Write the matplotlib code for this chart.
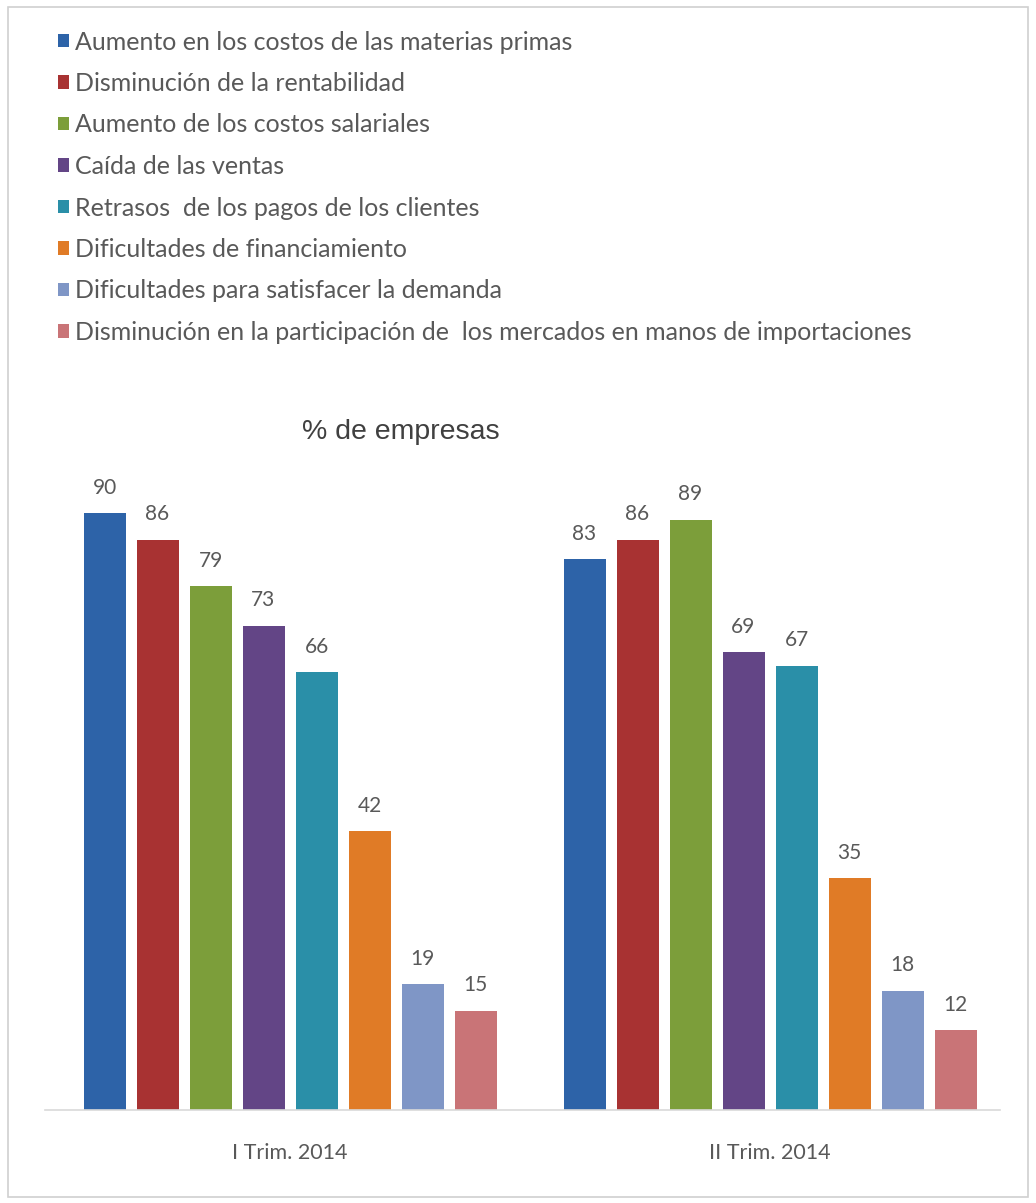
import matplotlib
matplotlib.use("Agg")
import matplotlib.pyplot as plt
from matplotlib.patches import Rectangle
import numpy as np

categories = ["I Trim. 2014", "II Trim. 2014"]
series_names = [
    "Aumento en los costos de las materias primas",
    "Disminución de la rentabilidad",
    "Aumento de los costos salariales",
    "Caída de las ventas",
    "Retrasos  de los pagos de los clientes",
    "Dificultades de financiamiento",
    "Dificultades para satisfacer la demanda",
    "Disminución en la participación de  los mercados en manos de importaciones",
]
values_t1 = [90, 86, 79, 73, 66, 42, 19, 15]
values_t2 = [83, 86, 89, 69, 67, 35, 18, 12]
colors = ["#2D63A8", "#A83232", "#7C9E3A", "#634586", "#2A8FA8", "#E07B26", "#7F96C6", "#C97477"]
title = "% de empresas"

plt.rcParams['font.family'] = ['Lato', 'DejaVu Sans']

fig = plt.figure(figsize=(10.36, 12.03), dpi=100)
W, H = 1036, 1203
# border frame
fig.patches.append(Rectangle((8 / W, 6 / H), 1020 / W, 1190 / H, transform=fig.transFigure,
                             fill=False, edgecolor="#d0d0d0", linewidth=1.2))

ax = fig.add_axes([45 / W, (H - 1110) / H, 955 / W, 680 / H])
x = np.arange(len(categories))
step = 53 / 480
width = 42 / 480
n = len(series_names)
handles = []
for i in range(n):
    vals = [values_t1[i], values_t2[i]]
    pos = x + (i - (n - 1) / 2) * step
    b = ax.bar(pos, vals, width=width, color=colors[i], label=series_names[i])
    handles.append(b)
    for p, v in zip(pos, vals):
        ax.annotate(str(v), (p, v), xytext=(0, 11), textcoords="offset points",
                    ha="center", va="bottom", fontsize=15, color="#595959")

ax.set_xlim((45 - 290) / 480, (1000 - 290) / 480)
ax.set_ylim(0, 680 / (597 / 90))
ax.set_xticks(x)
ax.set_xticklabels(categories, fontsize=15.5, color="#595959")
ax.tick_params(axis="x", length=0, pad=24)
ax.set_yticks([])
for s in ["top", "right", "left"]:
    ax.spines[s].set_visible(False)
ax.spines["bottom"].set_color("#d9d9d9")
ax.spines["bottom"].set_linewidth(1.2)

fig.text(401 / W, 1 - 432 / H, title, ha="center", va="center", fontsize=20.5,
         color="#404040", family=["Liberation Sans", "DejaVu Sans"])

leg = fig.legend(handles=handles, labels=series_names, loc="upper left",
                 bbox_to_anchor=(35 / W, 1 - 8 / H), frameon=False, fontsize=18,
                 labelspacing=0.74, handlelength=0.44, handleheight=0.44, handletextpad=0.25,
                 labelcolor="#595959")

fig.savefig("out.png", dpi=100, facecolor="white")
